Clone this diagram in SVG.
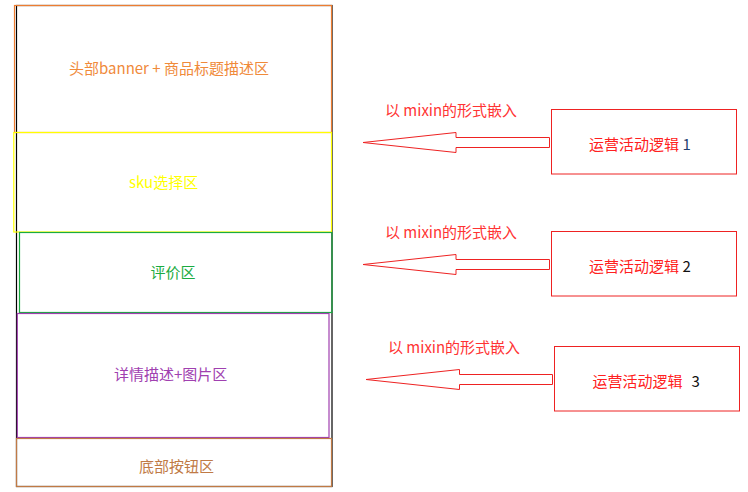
<svg xmlns="http://www.w3.org/2000/svg" width="748" height="492" viewBox="0 0 748 492">
<style>
text{font-family:"Noto Sans CJK SC","Noto Sans",sans-serif;font-size:15px}
.box{fill:none;stroke-width:1.2}
.red{fill:none;stroke:#ee2222;stroke-width:1}
.lbl{fill:#ff3333}
.arrow{fill:#fff;stroke:#ee2222;stroke-width:1}
</style>
<rect width="748" height="492" fill="#fff"/>
<g id="frame"><rect x="16.5" y="5.5" width="315.5" height="481" fill="none" stroke="#000" stroke-width="1.2"/></g>
<g id="header"><rect class="box" x="14.5" y="5.5" width="317" height="127" stroke="#ed7d31"/><text x="69" y="74" fill="#f08a3a">头部banner + 商品标题描述区</text></g>
<g id="sku"><rect class="box" x="13.8" y="132.5" width="317.7" height="99.5" stroke="#ffff00"/><text x="129" y="188" fill="#ffff00">sku选择区</text></g>
<g id="review"><rect class="box" x="19.5" y="232.5" width="312.5" height="80" stroke="#1aab40"/><text x="150.5" y="278" fill="#1aab40">评价区</text></g>
<g id="detail"><rect class="box" x="17.3" y="313.5" width="311.7" height="124" stroke="#a040b0"/><text x="114" y="380" fill="#a040b0">详情描述+图片区</text></g>
<g id="bottom"><rect class="box" x="16.5" y="438.5" width="315" height="48" stroke="#c07a45"/><text x="139" y="472" fill="#c07a45">底部按钮区</text></g>
<g id="op1"><rect class="red" x="551.5" y="109.5" width="185" height="64.5"/><text x="589" y="150" fill="#ff2020">运营活动逻辑 <tspan fill="#1f3f70">1</tspan></text></g>
<g id="op2"><rect class="red" x="551.5" y="231.5" width="185" height="64.5"/><text x="589" y="272" fill="#ff2020">运营活动逻辑 <tspan fill="#111">2</tspan></text></g>
<g id="op3"><rect class="red" x="554.5" y="346.5" width="185" height="64.5"/><text x="592.5" y="386.5" fill="#ff2020">运营活动逻辑<tspan x="691.5" fill="#111">3</tspan></text></g>
<g id="connectors">
<polygon class="arrow" points="363,142.5 456,132.5 456,137.5 549.5,137.5 549.5,147.5 456,147.5 456,152.5"/>
<polygon class="arrow" points="363,264.5 456,254.5 456,259.5 549.5,259.5 549.5,269.5 456,269.5 456,274.5"/>
<polygon class="arrow" points="366,379.5 459.5,369.5 459.5,374.5 552.5,374.5 552.5,384.5 459.5,384.5 459.5,389.5"/>
<text class="lbl" x="385" y="116">以 mixin的形式嵌入</text>
<text class="lbl" x="385" y="238">以 mixin的形式嵌入</text>
<text class="lbl" x="388" y="353">以 mixin的形式嵌入</text>
</g>
</svg>
